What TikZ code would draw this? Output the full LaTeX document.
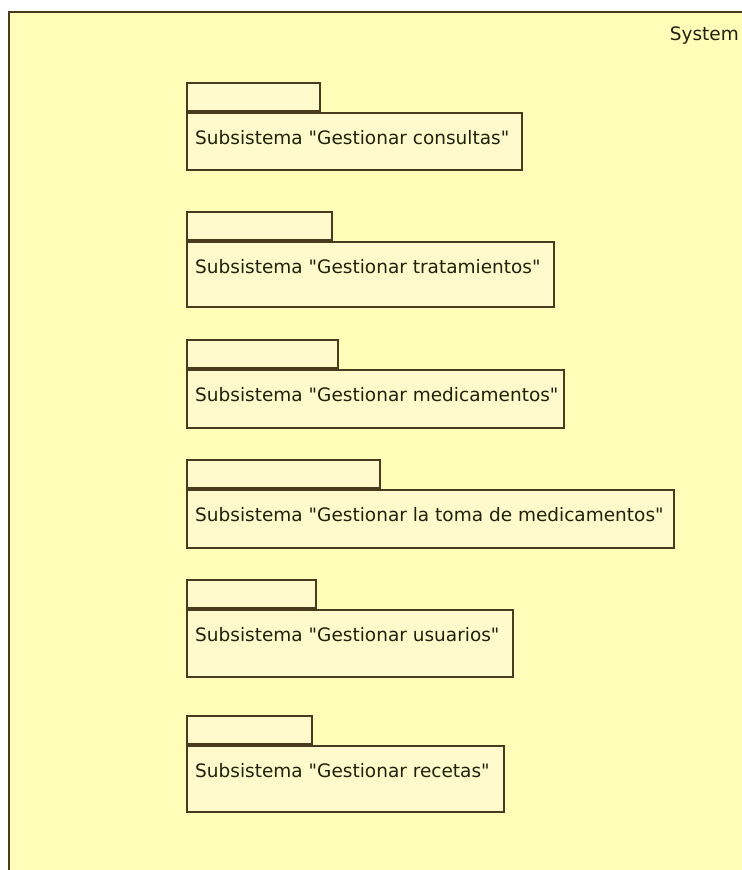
\documentclass[tikz,border=0pt]{standalone}
\usepackage{fontspec}
\setmainfont{DejaVu Sans}
\definecolor{bgyellow}{HTML}{FFFDB8}
\definecolor{pkgfill}{HTML}{FFFACB}
\definecolor{framebrown}{HTML}{4A3A1E}
\definecolor{txtcol}{HTML}{22220C}
\newcommand{\qq}{\textquotedbl}
\tikzset{
  sysframe/.style={draw=framebrown, line width=2bp, fill=bgyellow},
  pkgbody/.style={draw=framebrown, line width=1.8bp, fill=pkgfill, rectangle, inner sep=0pt, anchor=north west},
  pkgtab/.style={draw=framebrown, line width=1.8bp, fill=pkgfill, rectangle, inner sep=0pt, anchor=south west},
  pkglabel/.style={anchor=base west, inner sep=0pt, text=txtcol, font=\fontsize{18.5bp}{21bp}\selectfont},
}
% #1 name, #2 body top y, #3 tab right x, #4 body right x, #5 body bottom y, #6 label
\newcommand{\umlpkg}[6]{%
  \node[pkgbody, minimum width={(#4-186)*1bp}, minimum height={(#5-#2)*1bp}] (#1) at (186,#2) {};
  \node[pkgtab, minimum width={(#3-186)*1bp}, minimum height=28bp] (#1tab) at (#1.north west) {};
  \node[pkglabel] (#1lbl) at ([xshift=9bp,yshift=-32bp]#1.north west) {#6};
}
\begin{document}
\begin{tikzpicture}[x=1bp,y=-1bp]
\useasboundingbox (0,0) rectangle (742,870);
\fill[white] (0,0) rectangle (742,870);
\draw[sysframe] (9,12) rectangle (760,890);
\node[anchor=base east, inner sep=0pt, text=txtcol, font=\fontsize{18.5bp}{21bp}\selectfont] (sys) at (739,40) {System};
\umlpkg{p1}{112}{319}{521}{169}{Subsistema \qq Gestionar consultas\qq}
\umlpkg{p2}{241}{331}{553}{306}{Subsistema \qq Gestionar tratamientos\qq}
\umlpkg{p3}{369}{337}{563}{427}{Subsistema \qq Gestionar medicamentos\qq}
\umlpkg{p4}{489}{379}{673}{547}{Subsistema \qq Gestionar la toma de medicamentos\qq}
\umlpkg{p5}{609}{315}{512}{676}{Subsistema \qq Gestionar usuarios\qq}
\umlpkg{p6}{745}{311}{503}{811}{Subsistema \qq Gestionar recetas\qq}
\end{tikzpicture}
\end{document}
